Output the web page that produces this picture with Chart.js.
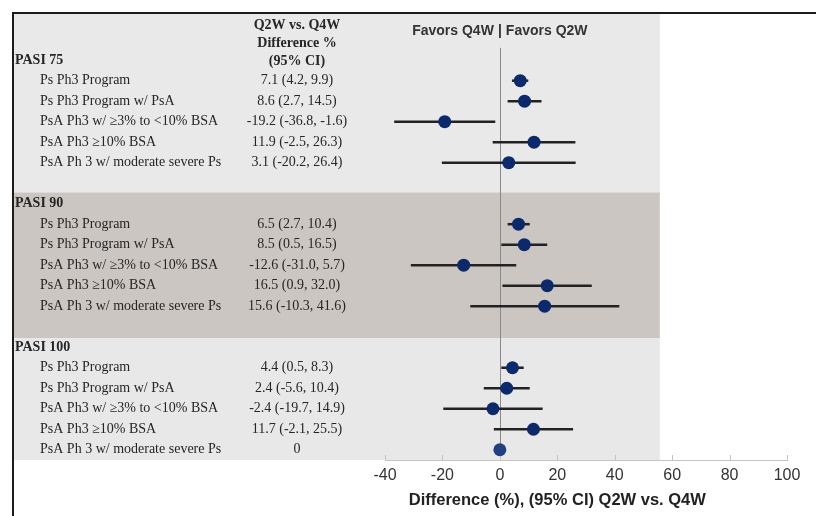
<!DOCTYPE html>
<html>
<head>
<meta charset="utf-8">
<script src="https://cdn.jsdelivr.net/npm/chart.js@4"></script>
<style>
  html, body { margin: 0; padding: 0; background: #fff; }
</style>
</head>
<body>
<canvas id="forestChart" width="816" height="516"></canvas>
<script>
// groups and rows
const groups = ['PASI 75', 'PASI 90', 'PASI 100'];
const subgroups = [
  'Ps Ph3 Program',
  'Ps Ph3 Program w/ PsA',
  'PsA Ph3 w/ \u22653% to <10% BSA',
  'PsA Ph3 \u226510% BSA',
  'PsA Ph 3 w/ moderate severe Ps'
];

// Q2W vs Q4W difference % (95% CI)
const pasi75Est = [7.1, 8.6, -19.2, 11.9, 3.1];
const pasi75Low = [4.2, 2.7, -36.8, -2.5, -20.2];
const pasi75High = [9.9, 14.5, -1.6, 26.3, 26.4];

const pasi90Est = [6.5, 8.5, -12.6, 16.5, 15.6];
const pasi90Low = [2.7, 0.5, -31.0, 0.9, -10.3];
const pasi90High = [10.4, 16.5, 5.7, 32.0, 41.6];

const pasi100Est = [4.4, 2.4, -2.4, 11.7, 0];
const pasi100Low = [0.5, -5.6, -19.7, -2.1, null];
const pasi100High = [8.3, 10.4, 14.9, 25.5, null];

const xTicks = [-40, -20, 0, 20, 40, 60, 80, 100];

const headerLines = ['Q2W vs. Q4W', 'Difference %', '(95% CI)'];
const favorsLeft = 'Favors Q4W';
const favorsRight = 'Favors Q2W';
const xTitle = 'Difference (%), (95% CI) Q2W vs. Q4W';

// build rows: group label at g*7, items after it, one blank row between groups
const estAll = [pasi75Est, pasi90Est, pasi100Est];
const lowAll = [pasi75Low, pasi90Low, pasi100Low];
const highAll = [pasi75High, pasi90High, pasi100High];

const rows = [];
groups.forEach((g, gi) => {
  subgroups.forEach((s, si) => {
    rows.push({
      y: gi * 7 + 1 + si,
      label: s,
      est: estAll[gi][si],
      low: lowAll[gi][si],
      high: highAll[gi][si]
    });
  });
});

const fmt = (v) => v.toFixed(1);
const ciText = (r) => r.low == null ? String(r.est) : fmt(r.est) + ' (' + fmt(r.low) + ', ' + fmt(r.high) + ')';

const SERIF = '"Liberation Serif", "Times New Roman", serif';
const SANS = '"Liberation Sans", Arial, sans-serif';

const forestPlugin = {
  id: 'forest',
  beforeDraw(chart) {
    const { ctx, scales: { x, y } } = chart;
    const left = 13;
    const right = x.getPixelForValue(55.7);
    const bands = [
      [y.min, 6.45, '#e9e9e9'],
      [6.45, 13.55, '#ccc6c3'],
      [13.55, y.max, '#e8e8e8']
    ];
    ctx.save();
    bands.forEach(([a, b, c]) => {
      const top = y.getPixelForValue(a);
      const bot = y.getPixelForValue(b);
      ctx.fillStyle = c;
      ctx.fillRect(left, top, right - left, bot - top);
    });
    ctx.restore();
  },
  beforeDatasetsDraw(chart) {
    const { ctx, chartArea, scales: { x, y } } = chart;
    ctx.save();
    // zero line
    const x0 = Math.round(x.getPixelForValue(0)) + 0.5;
    ctx.strokeStyle = '#8a8a8a';
    ctx.lineWidth = 1;
    ctx.beginPath();
    ctx.moveTo(x0, y.getPixelForValue(-0.6));
    ctx.lineTo(x0, chartArea.bottom);
    ctx.stroke();

    // inward tick marks
    ctx.strokeStyle = '#c4c4c4';
    x.ticks.forEach(t => {
      const px = Math.round(x.getPixelForValue(t.value)) + 0.5;
      ctx.beginPath();
      ctx.moveTo(px, chartArea.bottom - 5);
      ctx.lineTo(px, chartArea.bottom);
      ctx.stroke();
    });

    // confidence intervals
    ctx.strokeStyle = '#222';
    ctx.lineWidth = 2.5;
    rows.forEach(r => {
      if (r.low == null) return;
      const py = y.getPixelForValue(r.y);
      ctx.beginPath();
      ctx.moveTo(x.getPixelForValue(r.low), py);
      ctx.lineTo(x.getPixelForValue(r.high), py);
      ctx.stroke();
    });
    ctx.restore();
  },
  afterDraw(chart) {
    const { ctx, scales: { x, y } } = chart;
    ctx.save();
    ctx.fillStyle = '#262626';
    ctx.textBaseline = 'middle';

    // header column
    ctx.font = 'bold 14px ' + SERIF;
    ctx.textAlign = 'center';
    headerLines.forEach((t, i) => ctx.fillText(t, 297, 25 + i * 18));

    // group labels
    ctx.textAlign = 'left';
    groups.forEach((g, gi) => {
      ctx.font = 'bold 14px ' + SERIF;
      ctx.fillText(g, 15, y.getPixelForValue(gi * 7));
    });

    // rows
    ctx.font = '14px ' + SERIF;
    rows.forEach(r => {
      const py = y.getPixelForValue(r.y);
      ctx.textAlign = 'left';
      ctx.fillText(r.label, 40, py);
      ctx.textAlign = 'center';
      ctx.fillText(ciText(r), 297, py);
    });

    // favors header
    const x0 = x.getPixelForValue(0);
    ctx.font = 'bold 14px ' + SANS;
    ctx.fillStyle = '#333';
    ctx.textAlign = 'right';
    ctx.fillText(favorsLeft, x0 - 6, 31);
    ctx.textAlign = 'center';
    ctx.fillText('|', x0, 31);
    ctx.textAlign = 'left';
    ctx.fillText(favorsRight, x0 + 6, 31);

    // axis title
    ctx.font = 'bold 16.5px ' + SANS;
    ctx.fillStyle = '#222';
    ctx.textAlign = 'center';
    ctx.fillText(xTitle, x.getPixelForValue(20), 500);

    // frame
    ctx.strokeStyle = '#1c1c1c';
    ctx.lineWidth = 2;
    ctx.beginPath();
    ctx.moveTo(816, 13);
    ctx.lineTo(13, 13);
    ctx.lineTo(13, 516);
    ctx.stroke();
    ctx.restore();
  }
};

new Chart(document.getElementById('forestChart'), {
  type: 'scatter',
  data: {
    datasets: [{
      data: rows.map(r => ({ x: r.est, y: r.y })),
      backgroundColor: rows.map(r => r.low == null ? '#223f80' : '#0c2a6b'),
      borderWidth: 0,
      pointRadius: 6.5,
      pointHoverRadius: 6.5
    }]
  },
  options: {
    responsive: false,
    animation: false,
    devicePixelRatio: 1,
    layout: { padding: { left: 385, right: 29, top: 13, bottom: 0 } },
    plugins: { legend: { display: false }, tooltip: { enabled: false } },
    scales: {
      x: {
        type: 'linear',
        min: xTicks[0],
        max: xTicks[xTicks.length - 1],
        afterBuildTicks: (scale) => { scale.ticks = xTicks.map(v => ({ value: v })); },
        afterFit: (scale) => { scale.height = 56; },
        grid: { drawOnChartArea: false, drawTicks: false },
        border: { display: true, color: '#c4c4c4', width: 1 },
        ticks: {
          padding: 6,
          color: '#333',
          font: { family: SANS, size: 16 }
        }
      },
      y: {
        type: 'linear',
        reverse: true,
        min: -2.3,
        max: 19.5,
        display: false
      }
    }
  },
  plugins: [forestPlugin]
});
</script>
</body>
</html>
